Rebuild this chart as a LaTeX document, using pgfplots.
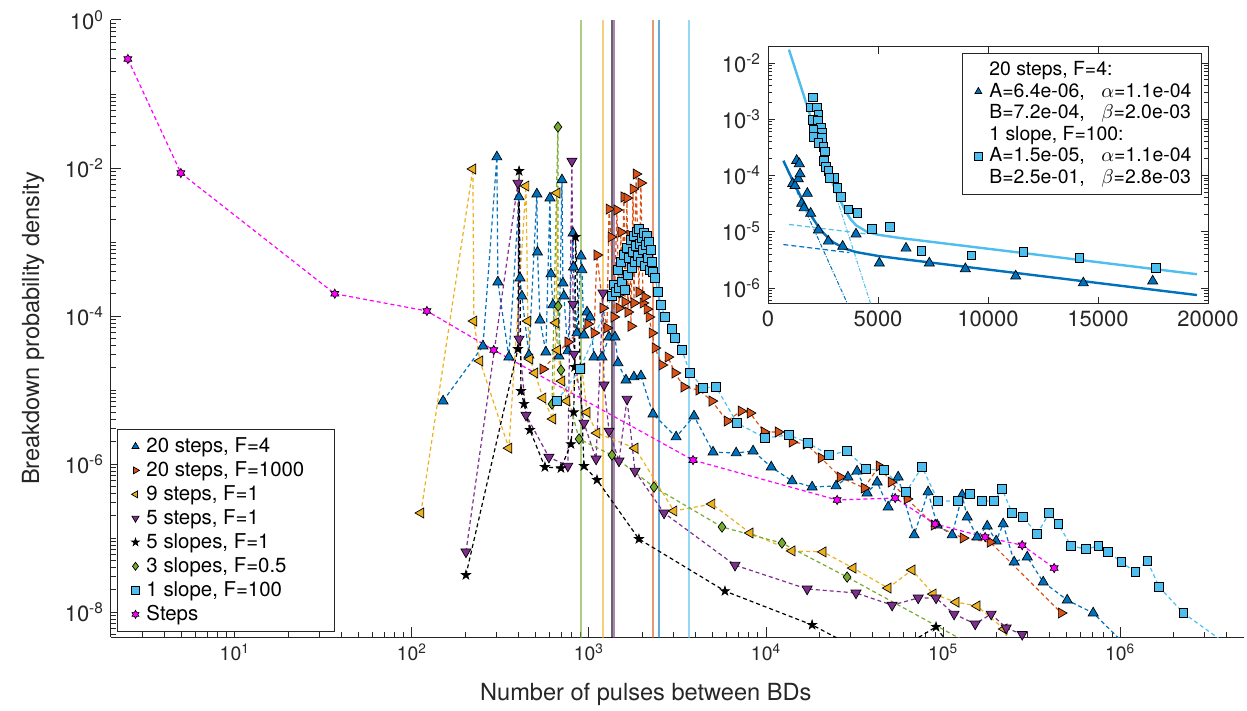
\documentclass[border=0pt]{standalone}
\usepackage{pgfplots}
\pgfplotsset{compat=1.18}
\usepackage{fontspec}
\setmainfont{TeX Gyre Heros}
\usetikzlibrary{plotmarks}
\definecolor{mblue}{RGB}{0,114,189}
\definecolor{morange}{RGB}{217,83,25}
\definecolor{myellow}{RGB}{237,177,32}
\definecolor{mpurple}{RGB}{126,47,142}
\definecolor{mgreen}{RGB}{119,172,48}
\definecolor{mcyan}{RGB}{77,190,238}
\definecolor{mmag}{RGB}{255,0,255}
\definecolor{axgray}{RGB}{38,38,38}
\pgfdeclareplotmark{pentagram}{%
 \pgfpathmoveto{\pgfpointpolar{90}{\pgfplotmarksize}}%
 \pgfpathlineto{\pgfpointpolar{126}{0.382\pgfplotmarksize}}%
 \pgfpathlineto{\pgfpointpolar{162}{\pgfplotmarksize}}%
 \pgfpathlineto{\pgfpointpolar{198}{0.382\pgfplotmarksize}}%
 \pgfpathlineto{\pgfpointpolar{234}{\pgfplotmarksize}}%
 \pgfpathlineto{\pgfpointpolar{270}{0.382\pgfplotmarksize}}%
 \pgfpathlineto{\pgfpointpolar{306}{\pgfplotmarksize}}%
 \pgfpathlineto{\pgfpointpolar{342}{0.382\pgfplotmarksize}}%
 \pgfpathlineto{\pgfpointpolar{18}{\pgfplotmarksize}}%
 \pgfpathlineto{\pgfpointpolar{54}{0.382\pgfplotmarksize}}%
 \pgfpathclose\pgfusepathqfillstroke}
\pgfdeclareplotmark{hexagram}{%
 \pgfpathmoveto{\pgfpointpolar{90}{\pgfplotmarksize}}%
 \pgfpathlineto{\pgfpointpolar{120}{0.577\pgfplotmarksize}}%
 \pgfpathlineto{\pgfpointpolar{150}{\pgfplotmarksize}}%
 \pgfpathlineto{\pgfpointpolar{180}{0.577\pgfplotmarksize}}%
 \pgfpathlineto{\pgfpointpolar{210}{\pgfplotmarksize}}%
 \pgfpathlineto{\pgfpointpolar{240}{0.577\pgfplotmarksize}}%
 \pgfpathlineto{\pgfpointpolar{270}{\pgfplotmarksize}}%
 \pgfpathlineto{\pgfpointpolar{300}{0.577\pgfplotmarksize}}%
 \pgfpathlineto{\pgfpointpolar{330}{\pgfplotmarksize}}%
 \pgfpathlineto{\pgfpointpolar{0}{0.577\pgfplotmarksize}}%
 \pgfpathlineto{\pgfpointpolar{30}{\pgfplotmarksize}}%
 \pgfpathlineto{\pgfpointpolar{60}{0.577\pgfplotmarksize}}%
 \pgfpathclose\pgfusepathqfillstroke}
\tikzset{
 ser/.style={color=#1, line width=0.6pt, dash pattern=on 2pt off 1.5pt},
 mk/.style={solid, fill=#1, draw=black, line width=0.35pt},
 vline/.style={color=#1, opacity=0.6, line width=0.8pt},
}
\begin{document}
\begin{tikzpicture}
\useasboundingbox (-55.5pt,-37pt) rectangle (568pt,318.5pt);
\begin{axis}[
 at={(0,0)}, anchor=south west, scale only axis, width=566.5pt, height=308.5pt,
 xmode=log, ymode=log, xmin=2, xmax=5e6, ymin=4.6e-9, ymax=1,
 axis x line=bottom, axis y line=left,
 axis line style={-, line width=0.5pt, color=axgray},
 tick style={axgray, line width=0.5pt}, tick align=inside,
 major tick length=5pt, minor tick length=2.5pt,
 xtick={10,100,1000,10000,100000,1000000},
 xticklabels={10\textsuperscript{1},10\textsuperscript{2},10\textsuperscript{3},10\textsuperscript{4},10\textsuperscript{5},10\textsuperscript{6}},
 minor xtick={3,4,5,6,7,8,9,20,30,40,50,60,70,80,90,200,300,400,500,600,700,800,900,2000,3000,4000,5000,6000,7000,8000,9000,2e4,3e4,4e4,5e4,6e4,7e4,8e4,9e4,2e5,3e5,4e5,5e5,6e5,7e5,8e5,9e5,2e6,3e6,4e6},
 ytick={1,1e-2,1e-4,1e-6,1e-8},
 yticklabels={10\textsuperscript{0},10\textsuperscript{-2},10\textsuperscript{-4},10\textsuperscript{-6},10\textsuperscript{-8}},
 minor ytick={5e-9,6e-9,7e-9,8e-9,9e-9,2e-8,3e-8,4e-8,5e-8,6e-8,7e-8,8e-8,9e-8,1e-7,2e-7,3e-7,4e-7,5e-7,6e-7,7e-7,8e-7,9e-7,2e-6,3e-6,4e-6,5e-6,6e-6,7e-6,8e-6,9e-6,1e-5,2e-5,3e-5,4e-5,5e-5,6e-5,7e-5,8e-5,9e-5,2e-4,3e-4,4e-4,5e-4,6e-4,7e-4,8e-4,9e-4,1e-3,2e-3,3e-3,4e-3,5e-3,6e-3,7e-3,8e-3,9e-3,2e-2,3e-2,4e-2,5e-2,6e-2,7e-2,8e-2,9e-2,0.1,0.2,0.3,0.4,0.5,0.6,0.7,0.8,0.9},
 xticklabel style={font=\fontsize{9.7}{10}\selectfont, text=axgray},
 yticklabel style={font=\fontsize{11}{11}\selectfont, text=axgray},
 xlabel={Number of pulses between BDs}, ylabel={Breakdown probability density},
 label style={font=\fontsize{11.8}{12}\selectfont, text=axgray},
 xlabel style={at={(axis description cs:0.472,-0.0925)}, anchor=center},
 ylabel style={at={(axis description cs:-0.0688,0.5)}, anchor=center},
 legend style={at={(0.0053,0.0081)}, anchor=south west, font=\fontsize{10.2}{12}\selectfont, draw=axgray, line width=0.5pt, fill=white, row sep=-0.95pt},
 legend cell align=left,
 legend image code/.code={\path[draw=none, fill=none] (-6pt,0pt) -- (3.5pt,0pt); \draw[#1, mark size=2pt] plot[only marks] coordinates {(0pt,0pt)};},
]
% mean lines
\addplot[forget plot, vline=mgreen] coordinates {(902,1e-9) (902,1)};
\addplot[forget plot, vline=myellow] coordinates {(1200,1e-9) (1200,1)};
\addplot[forget plot, vline=black, line width=1pt] coordinates {(1358,1e-9) (1358,1)};
\addplot[forget plot, vline=mpurple] coordinates {(1384,1e-9) (1384,1)};
\addplot[forget plot, vline=morange] coordinates {(2300,1e-9) (2300,1)};
\addplot[forget plot, vline=mblue] coordinates {(2485,1e-9) (2485,1)};
\addplot[forget plot, vline=mcyan] coordinates {(3670,1e-9) (3670,1)};
% 20 steps, F=4
\addplot[ser=mblue, mark=triangle*, mark size=2.9pt, mark options={mk=mblue}] coordinates {
(150,7.1e-6) (252,3.93e-5) (302,1.41e-2) (306,2.88e-4) (353,2.79e-5) (403,4.06e-3) (408,3.26e-4) (418,1.86e-4) (458,2.97e-5) (508,4.45e-3) (512,7.3e-4) (529,8.8e-5) (571,3.26e-5) (602,3.93e-3) (610,3.70e-4) (626,1.41e-4) (677,2.88e-5) (704,6.9e-3) (713,2.79e-4) (722,1.86e-4) (760,3.37e-5) (813,1.32e-3) (818,4.59e-4) (855,5.9e-5) (902,6.47e-4) (913,4.19e-4) (937,5.54e-5) (975,1.13e-4) (1014,9.7e-5) (1068,2.79e-5) (1184,2.79e-5) (1298,5.2e-5) (1403,5.2e-5) (1459,2.32e-5) (1618,1.36e-5) (1795,1.50e-5) (1966,1.55e-5) (2300,4.74e-6) (3105,2.32e-6) (3920,4.45e-6) (5020,1.45e-6) (6780,1.41e-6) (8450,1.50e-6) (10700,9.1e-7) (14030,5.9e-7) (18200,4.89e-7) (24850,5.05e-7) (29000,6.67e-7) (32650,8.0e-7) (37200,4.06e-7) (42400,5.7e-7) (48900,2.62e-7) (55700,6.67e-7) (68600,1.10e-7) (82200,4.19e-7) (92500,1.50e-7) (112400,1.10e-7) (128000,3.81e-7) (136700,1.92e-7) (155500,1.03e-7) (177400,1.45e-7) (199200,9.1e-8) (218300,1.55e-7) (251800,4.74e-8) (298500,5.54e-8) (367500,2.54e-8) (502000,1.45e-8) (703600,9.7e-9) (1140000,3.1e-9)};
\addlegendentry{\makebox[89pt][l]{20 steps, F=4}}
% 20 steps, F=1000
\addplot[ser=morange, mark=triangle*, mark size=2.9pt, mark options={mk=morange, rotate=-90}] coordinates {
(550,1.92e-5) (760,4.45e-5) (986,7.8e-5) (1068,5.9e-5) (1110,6.67e-4) (1200,1.28e-4) (1264,6.9e-5) (1298,2.79e-3) (1332,1.17e-3) (1384,9.7e-5) (1439,2.71e-3) (1477,1.28e-4) (1516,1.36e-3) (1536,2.05e-4) (1576,4.06e-3) (1597,1.55e-4) (1640,3.93e-3) (1660,1.13e-4) (1706,1.24e-3) (1727,7.3e-5) (1774,5.2e-3) (1795,1.50e-4) (1845,8.3e-3) (1915,2.11e-4) (1966,6.27e-3) (2020,1.50e-4) (2072,1.81e-4) (2127,1.24e-4) (2183,9.7e-5) (2270,5.9e-5) (2360,3.7e-5) (2585,2.18e-5) (2795,2.79e-5) (3060,1.70e-5) (3440,1.10e-5) (4180,1.0e-5) (4950,7.1e-6) (6030,3.81e-6) (7230,5.2e-6) (8130,4.89e-6) (9750,2.71e-6) (11700,2.71e-6) (14030,1.98e-6) (16830,1.86e-6) (20450,1.21e-6) (26200,6.67e-7) (35800,4.74e-7) (43500,9.4e-7) (50800,5.7e-7) (62600,3.37e-7) (89000,1.50e-7) (129800,1.0e-7) (184500,8.8e-8) (464500,9.7e-9)};
\addlegendentry{20 steps, F=1000}
% 9 steps, F=1
\addplot[ser=myellow, mark=triangle*, mark size=2.9pt, mark options={mk=myellow, rotate=90}] coordinates {
(112.4,2.18e-7) (221,9.7e-3) (224,8.55e-5) (242,2.47e-5) (353,1.64e-6) (441,5.71e-3) (452,8.55e-5) (464,2.62e-5) (495,1.70e-5) (550,7.8e-6) (626,4.06e-6) (651,8.1e-5) (660,4.59e-3) (665,3.47e-5) (703,1.32e-5) (751,7.1e-6) (913,1.98e-5) (975,5.0e-6) (1110,2.62e-6) (1820,1.64e-6) (3020,2.32e-7) (4950,2.88e-7) (8130,1.17e-7) (14030,6.7e-8) (21000,6.5e-8) (31000,3.93e-8) (48900,2.11e-8) (66800,3.7e-8) (87900,1.75e-8) (118400,1.36e-8) (155500,1.21e-8) (221000,5.9e-9) (255000,2.2e-9)};
\addlegendentry{9 steps, F=1}
% 5 steps, F=1
\addplot[ser=mpurple, mark=triangle*, mark size=2.9pt, mark options={mk=mpurple, rotate=180}] coordinates {
(202,6.5e-8) (397,6.27e-3) (403,4.89e-5) (441,4.59e-6) (594,1.24e-6) (760,9.4e-7) (801,1.24e-2) (813,1.45e-4) (823,3.06e-5) (937,3.58e-6) (1097,1.17e-6) (1200,2.05e-4) (1216,1.17e-5) (1298,2.79e-6) (1477,1.10e-6) (1640,7.56e-6) (1820,8.0e-7) (2655,2.18e-7) (6680,4.3e-8) (17060,2.05e-8) (32200,1.81e-8) (51500,1.24e-8) (72300,1.55e-8) (91200,1.55e-8) (115300,9.4e-9) (151700,6.9e-9) (186700,9.4e-9) (227000,6.1e-9) (279500,5.0e-9) (353000,2.2e-9)};
\addlegendentry{5 steps, F=1}
% 5 slopes, F=1
\addplot[ser=black, mark=pentagram, mark size=2.4pt, mark options={mk=black}] coordinates {
(202,3.16e-8) (397,3.58e-5) (403,9.1e-3) (413,9.7e-6) (430,6.5e-6) (464,2.88e-6) (564,9.1e-7) (695,8.8e-7) (791,1.86e-6) (820,5.0e-6) (830,2.05e-5) (840,1.17e-3) (937,9.4e-7) (1110,6.1e-7) (1915,9.7e-8) (5860,1.92e-8) (18200,6.7e-9) (44000,2.2e-9) (91200,6.3e-9) (125000,2.2e-9)};
\addlegendentry{5 slopes, F=1}
% 3 slopes, F=0.5
\addplot[ser=mgreen, mark=diamond*, mark size=2.6pt, mark options={mk=mgreen}] coordinates {
(618,6.47e-6) (668,3.58e-2) (670,1.36e-4) (695,1.86e-5) (879,2.18e-6) (1349,1.32e-6) (2330,4.89e-7) (5640,1.41e-7) (12300,8.55e-8) (28700,2.97e-8) (162000,3.1e-9)};
\addlegendentry{3 slopes, F=0.5}
% 1 slope, F=100
\addplot[ser=mcyan, mark=square*, mark size=2.2pt, mark options={mk=mcyan}] coordinates {
(659,7.1e-6) (889,1.92e-5) (1349,1.86e-4) (1384,2.62e-4) (1421,2.11e-4) (1459,4.19e-4) (1477,2.39e-4) (1516,5.37e-4) (1536,2.88e-4) (1576,6.67e-4) (1597,2.25e-4) (1640,8.3e-4) (1660,3.58e-4) (1683,6.08e-4) (1727,1.06e-3) (1750,4.45e-4) (1774,7.3e-4) (1795,1.21e-3) (1820,5.37e-4) (1845,8.8e-4) (1866,1.36e-3) (1892,6.47e-4) (1915,1.50e-3) (1941,9.4e-4) (1966,5.37e-4) (1991,1.13e-3) (2020,7.8e-4) (2046,1.32e-3) (2072,4.74e-4) (2099,9.1e-4) (2127,1.21e-3) (2153,6.08e-4) (2183,1.0e-3) (2213,4.19e-4) (2239,7.8e-4) (2270,5.37e-4) (2300,3.93e-4) (2360,3.26e-4) (2455,2.11e-4) (2553,1.41e-4) (2687,9.7e-5) (2944,6.67e-5) (3060,5.05e-5) (3350,3.47e-5) (3720,1.70e-5) (4410,1.07e-5) (5220,1.10e-5) (6860,3.58e-6) (9870,2.25e-6) (13490,2.47e-6) (17270,1.92e-6) (22700,1.32e-6) (28700,1.50e-6) (36700,8.55e-7) (46400,8.3e-7) (61800,4.19e-7) (76000,9.1e-7) (93700,3.16e-7) (121600,3.16e-7) (142200,3.93e-7) (166100,3.16e-7) (194100,3.16e-7) (215300,4.59e-7) (245300,2.18e-7) (283100,1.92e-7) (339600,1.13e-7) (397200,2.18e-7) (446700,1.55e-7) (528500,7.8e-8) (642700,7.1e-8) (751600,7.8e-8) (855000,6.47e-8) (1014000,4.74e-8) (1216000,3.47e-8) (1422000,4.89e-8) (1660000,2.18e-8) (2270000,9.7e-9) (4180000,3.4e-9)};
\addlegendentry{1 slope, F=100}
% Steps
\addplot[ser=mmag, mark=hexagram, mark size=2.3pt, mark options={mk=mmag}] coordinates {
(2.49,0.297) (4.96,8.55e-3) (36.7,2.0e-4) (121.6,1.17e-4) (290,3.47e-5) (3870,1.13e-6) (25200,3.27e-7) (53600,3.47e-7) (90100,1.55e-7) (172700,1.03e-7) (279500,8.0e-8) (423600,3.93e-8)};
\addlegendentry{Steps}
\end{axis}
% inset
\begin{axis}[
 at={(328.5pt,166.5pt)}, anchor=south west, scale only axis, width=220pt, height=128.5pt,
 xmin=0, xmax=20000, ymode=log, ymin=5.2e-7, ymax=1.93e-2,
 scaled x ticks=false,
 axis background/.style={fill=white},
 axis line style={line width=0.5pt, color=axgray},
 tick style={axgray, line width=0.5pt}, tick align=inside,
 major tick length=3.5pt, minor tick length=1.8pt,
 xtick={0,5000,10000,15000,20000}, xticklabels={0,5000,10000,15000,20000},
 ytick={1e-6,1e-5,1e-4,1e-3,1e-2},
 yticklabels={10\textsuperscript{-6},10\textsuperscript{-5},10\textsuperscript{-4},10\textsuperscript{-3},10\textsuperscript{-2}},
 minor ytick={6e-7,7e-7,8e-7,9e-7,2e-6,3e-6,4e-6,5e-6,6e-6,7e-6,8e-6,9e-6,2e-5,3e-5,4e-5,5e-5,6e-5,7e-5,8e-5,9e-5,2e-4,3e-4,4e-4,5e-4,6e-4,7e-4,8e-4,9e-4,2e-3,3e-3,4e-3,5e-3,6e-3,7e-3,8e-3,9e-3},
 ticklabel style={font=\fontsize{11}{11}\selectfont, text=axgray},
 legend style={at={(0.986,0.977)}, anchor=north east, font=\fontsize{9.7}{11}\selectfont, draw=axgray, line width=0.5pt, fill=white, row sep=-1.8pt},
 legend cell align=left,
 legend image code/.code={\path[draw=none, fill=none] (-5pt,0pt) -- (3.5pt,0pt); \draw[#1, mark size=2pt] plot[only marks] coordinates {(0pt,0pt)};},
]
% fit components
\addplot[forget plot, color=mblue, line width=0.6pt, dash pattern=on 2.5pt off 1.5pt] coordinates {(700,5.93e-6) (3700,4.26e-6)};
\addplot[forget plot, color=mblue, line width=0.5pt, dash pattern=on 2pt off 0.8pt on 0.5pt off 0.8pt] coordinates {(700,1.776e-4) (3700,4.4e-7)};
\addplot[forget plot, color=mcyan, line width=0.6pt, dash pattern=on 2.5pt off 1.5pt] coordinates {(955,1.35e-5) (4500,9.14e-6)};
\addplot[forget plot, color=mcyan, line width=0.5pt, dash pattern=on 2pt off 0.8pt on 0.5pt off 0.8pt] coordinates {(955,1.725e-2) (4800,3.6e-7)};
% fits
\addplot[forget plot, color=mblue, line width=1.2pt] coordinates {
(700,1.835e-4) (1000,1.032e-4) (1250,6.47e-5) (1500,4.13e-5) (1750,2.70e-5) (2000,1.833e-5) (2250,1.30e-5) (2500,9.71e-6) (2750,7.67e-6) (3000,6.39e-6) (3500,5.01e-6) (4000,4.36e-6) (5000,3.72e-6) (6000,3.31e-6) (8000,2.655e-6) (10000,2.13e-6) (12000,1.71e-6) (14000,1.372e-6) (16000,1.10e-6) (18000,8.84e-7) (19500,7.50e-7)};
\addplot[forget plot, color=mcyan, line width=1.2pt] coordinates {
(955,1.726e-2) (1000,1.52e-2) (1250,7.56e-3) (1500,3.76e-3) (1750,1.874e-3) (2000,9.37e-4) (2250,4.71e-4) (2500,2.39e-4) (2750,1.24e-4) (3000,6.70e-5) (3250,3.84e-5) (3500,2.41e-5) (3750,1.68e-5) (4000,1.308e-5) (4500,9.98e-6) (5000,8.86e-6) (6000,7.75e-6) (8000,6.22e-6) (10000,4.99e-6) (12000,4.01e-6) (14000,3.22e-6) (16000,2.58e-6) (18000,2.07e-6) (19500,1.76e-6)};
% data
\addplot[forget plot, only marks, mark=triangle*, mark size=2.9pt, mark options={mk=mblue}] coordinates {
(1121,7.2e-5) (1227,6.6e-5) (1303,1.85e-4) (1379,8.7e-5) (1424,1.62e-4) (1455,1.07e-4) (1530,3.2e-5) (1636,2.65e-5) (1788,4.8e-5) (1939,2.13e-5) (2288,1.07e-5) (2742,6.8e-6) (3394,5.5e-6) (4000,9.1e-6) (5061,2.77e-6) (6273,5.1e-6) (7333,2.77e-6) (8970,2.2e-6) (11258,1.63e-6) (14333,1.23e-6) (17485,1.33e-6)};
\addplot[forget plot, only marks, mark=square*, mark size=2.2pt, mark options={mk=mcyan}] coordinates {
(2030,2.45e-3) (1955,1.63e-3) (2212,1.63e-3) (2288,1.2e-3) (2030,9.8e-4) (2258,9.6e-4) (2409,7.2e-4) (2061,6.6e-4) (2439,5.7e-4) (2091,4.8e-4) (2439,4.7e-4) (2288,3.8e-4) (2515,3.2e-4) (2591,2.7e-4) (2545,1.8e-4) (2636,1.45e-4) (2742,1.2e-4) (3015,9.2e-5) (2788,9.2e-5) (3152,6.1e-5) (3318,4.2e-5) (3652,2.5e-5) (4061,2.2e-5) (4712,1.12e-5) (5545,1.24e-5) (6970,4.65e-6) (9242,3.8e-6) (11606,4.4e-6) (14152,3.4e-6) (17636,2.3e-6)};
\addlegendimage{empty legend}
\addlegendentry{20 steps, F=4:}
\addlegendimage{only marks, mark=triangle*, mark size=2.9pt, mark options={mk=mblue}}
\addlegendentry{\makebox[56pt][l]{A=6.4e-06,}$\alpha$=1.1e-04}
\addlegendimage{empty legend}
\addlegendentry{\makebox[56pt][l]{B=7.2e-04,}$\beta$=2.0e-03}
\addlegendimage{empty legend}
\addlegendentry{1 slope, F=100:}
\addlegendimage{only marks, mark=square*, mark size=2.2pt, mark options={mk=mcyan}}
\addlegendentry{\makebox[56pt][l]{A=1.5e-05,}$\alpha$=1.1e-04}
\addlegendimage{empty legend}
\addlegendentry{\makebox[56pt][l]{B=2.5e-01,}$\beta$=2.8e-03}
\end{axis}
\end{tikzpicture}
\end{document}
